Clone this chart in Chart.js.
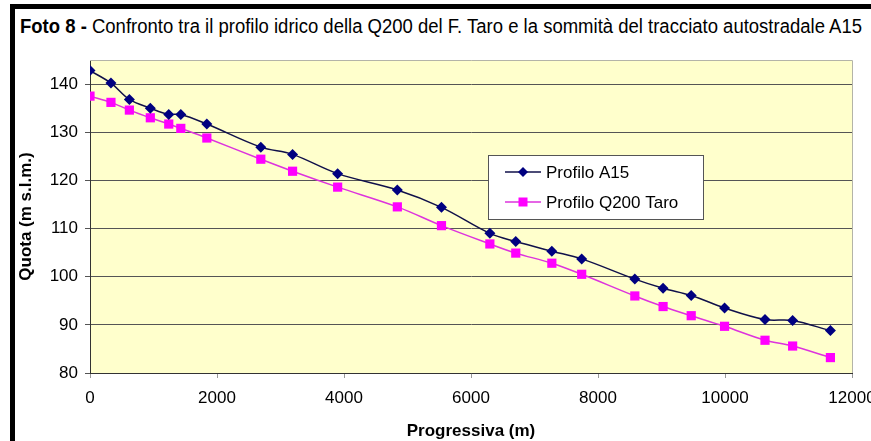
<!DOCTYPE html>
<html><head><meta charset="utf-8">
<script src="https://cdn.jsdelivr.net/npm/chart.js@4/dist/chart.umd.min.js"></script>
<style>
html,body{margin:0;padding:0;background:#fff;}
body{width:871px;height:441px;position:relative;overflow:hidden;font-family:"Liberation Sans",Arial,sans-serif;}
#frameTop{position:absolute;left:10px;top:4px;width:861px;height:5px;background:#000;}
#frameLeft{position:absolute;left:10px;top:4px;width:5px;height:437px;background:#000;}
#title{position:absolute;left:20px;top:16px;font-size:20px;line-height:20px;white-space:nowrap;transform-origin:0 0;color:#000;}
#c{position:absolute;left:0;top:0;}
</style></head>
<body>
<div id="frameTop"></div><div id="frameLeft"></div>
<div id="title"><b>Foto 8 -</b> Confronto tra il profilo idrico della Q200 del F. Taro e la sommità del tracciato autostradale A15</div>
<canvas id="c" width="871" height="441"></canvas>
<script>
const progressiva = [0,330,620,950,1240,1430,1840,2690,3190,3900,4840,5535,6297,6705,7273,7743,8580,9025,9468,9993,10630,11065,11660];
const profiloA15  = [142.8,140.2,136.8,135.0,133.7,133.7,131.7,126.9,125.4,121.4,118.0,114.4,109.0,107.3,105.3,103.7,99.5,97.6,96.1,93.5,91.1,90.9,88.8];
const profiloQ200 = [137.5,136.2,134.6,133.0,131.7,130.8,128.8,124.4,121.9,118.6,114.5,110.6,106.8,104.9,102.8,100.5,96.0,93.8,91.9,89.7,86.8,85.6,83.2];
const xTicks = [0,2000,4000,6000,8000,10000,12000];
const yTicks = [80,90,100,110,120,130,140];
const seriesNames = ["Profilo A15","Profilo Q200 Taro"];

// fit title width
(function(){
  const t = document.getElementById('title');
  const w = t.getBoundingClientRect().width;
  t.style.transform = 'scaleX(' + (842 / w) + ')';
})();

const lineA = '#10104a', markA = '#000080';
const lineQ = '#dd33dd', markQ = '#ff00ff';

const bgPlugin = {
  id: 'bg',
  beforeDraw(chart) {
    const {ctx, chartArea: a} = chart;
    ctx.save();
    ctx.fillStyle = '#ffffcc';
    ctx.fillRect(a.left, a.top, a.right - a.left, a.bottom - a.top);
    ctx.restore();
  },
  beforeDatasetsDraw(chart) {
    const {ctx, chartArea: a} = chart;
    ctx.save();
    ctx.strokeStyle = '#b4b4a8';
    ctx.lineWidth = 1;
    ctx.beginPath();
    ctx.moveTo(a.left, a.top + 0.5); ctx.lineTo(a.right + 0.5, a.top + 0.5);
    ctx.lineTo(a.right + 0.5, a.bottom);
    ctx.stroke();
    ctx.restore();
  }
};

const legendPlugin = {
  id: 'boxLegend',
  afterDraw(chart) {
    const ctx = chart.ctx;
    const bx = 488.5, by = 155.5, bw = 215, bh = 64;
    ctx.save();
    ctx.fillStyle = '#fff';
    ctx.fillRect(bx, by, bw, bh);
    ctx.strokeStyle = '#555';
    ctx.lineWidth = 1;
    ctx.strokeRect(bx, by, bw, bh);
    const rows = [172, 202];
    chart.data.datasets.forEach((ds, i) => {
      const y = rows[i];
      ctx.strokeStyle = ds.borderColor;
      ctx.lineWidth = 1.5;
      ctx.beginPath(); ctx.moveTo(505, y); ctx.lineTo(541, y); ctx.stroke();
      ctx.fillStyle = ds.pointBackgroundColor;
      ctx.beginPath();
      if (i === 0) {
        const r = 5;
        ctx.moveTo(523, y - r); ctx.lineTo(523 + r, y); ctx.lineTo(523, y + r); ctx.lineTo(523 - r, y); ctx.closePath();
      } else {
        ctx.rect(523 - 4.5, y - 4.5, 9, 9);
      }
      ctx.fill();
      ctx.fillStyle = '#000';
      ctx.font = '17px "Liberation Sans", Arial, sans-serif';
      ctx.textBaseline = 'middle';
      ctx.textAlign = 'left';
      ctx.fillText(ds.label, 546, y + 1);
    });
    ctx.restore();
  }
};

const noPad = s => { s.paddingLeft = 0; s.paddingRight = 0; s.paddingTop = 0; s.paddingBottom = 0; };

new Chart(document.getElementById('c'), {
  type: 'line',
  data: {
    datasets: [
      { label: seriesNames[0], data: progressiva.map((x, i) => ({x, y: profiloA15[i]})),
        borderColor: lineA, borderWidth: 1.5, pointStyle: 'rectRot', pointRadius: 5.5,
        pointBackgroundColor: markA, pointBorderColor: markA, pointBorderWidth: 0, tension: 0.35 },
      { label: seriesNames[1], data: progressiva.map((x, i) => ({x, y: profiloQ200[i]})),
        borderColor: lineQ, borderWidth: 1.5, pointStyle: 'rect', pointRadius: 6.5,
        pointBackgroundColor: markQ, pointBorderColor: markQ, pointBorderWidth: 0, tension: 0.35 }
    ]
  },
  options: {
    responsive: false,
    animation: false,
    devicePixelRatio: 1,
    layout: { padding: { left: 0, top: 60, right: 19, bottom: 0 } },
    plugins: { legend: { display: false }, tooltip: { enabled: false } },
    scales: {
      x: {
        type: 'linear', min: 0, max: 12000,
        afterBuildTicks: s => { s.ticks = xTicks.map(v => ({value: v})); },
        afterFit: s => { s.height = 68; noPad(s); },
        grid: { drawOnChartArea: false, drawTicks: true, tickLength: 5, color: '#999' },
        border: { display: true, color: '#333', width: 1 },
        ticks: { color: '#000', padding: 10, maxRotation: 0, autoSkip: false,
          font: { family: '"Liberation Sans", Arial, sans-serif', size: 17 },
          callback: v => String(v) },
        title: { display: true, text: 'Progressiva (m)', color: '#000',
          font: { family: '"Liberation Sans", Arial, sans-serif', size: 17, weight: 'bold', lineHeight: 1 },
          padding: { top: 0, bottom: 1 } }
      },
      y: {
        type: 'linear', min: 80, max: 145,
        afterBuildTicks: s => { s.ticks = yTicks.map(v => ({value: v})); },
        afterFit: s => { s.width = 90; noPad(s); },
        grid: { drawTicks: true, tickLength: 5, color: '#555' },
        border: { display: true, color: '#333', width: 1 },
        ticks: { color: '#000', padding: 7, autoSkip: false,
          font: { family: '"Liberation Sans", Arial, sans-serif', size: 17 } },
        title: { display: true, text: 'Quota (m s.l.m.)', color: '#000',
          font: { family: '"Liberation Sans", Arial, sans-serif', size: 17, weight: 'bold', lineHeight: 1 },
          padding: { top: 18, bottom: 0 } }
      }
    }
  },
  plugins: [bgPlugin, legendPlugin]
});
</script>
</body></html>
